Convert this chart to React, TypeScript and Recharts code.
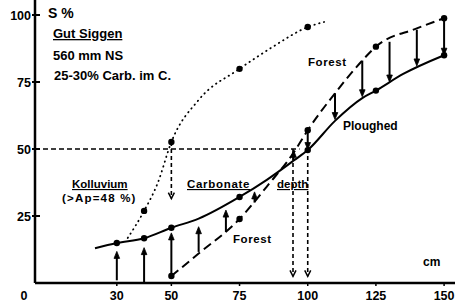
import React from "react";
import { ComposedChart, Line, XAxis, YAxis, ReferenceLine } from "recharts";

// depth (cm) vs S %
const ploughedDepth = [22, 30, 40, 50, 60, 75, 85, 95, 100, 110, 120, 125, 135, 150];
const ploughedS = [13, 14.9, 16.7, 20.6, 24, 32.1, 38.5, 45.8, 49.6, 60.5, 69, 71.8, 78, 85];
const ploughedDots = [30, 40, 50, 75, 100, 125, 150];

const forestDepth = [50, 60, 75, 85, 95, 100, 110, 120, 125, 140, 150];
const forestS = [2.6, 11, 23.9, 36, 48.9, 57, 70.8, 83, 88.2, 95, 98.8];
const forestDots = [50, 75, 100, 125, 150];

const kolluviumDepth = [34, 40, 45, 50, 60, 75, 87, 100, 106];
const kolluviumS = [16.8, 26.9, 37.3, 52.6, 68.3, 79.9, 88, 95.5, 97.4];
const kolluviumDots = [40, 50, 75, 100];

// arrows: depth, start value, end value
const upDepth = [30, 40, 50, 60, 70, 80.5, 94.8];
const upFrom = [1, 0, 2.6, 11.6, 19, 30, 45.5];
const upTo = [11.8, 13.2, 18.7, 21, 27.2, 34, 49.5];

const downDepth = [100, 110, 120, 130, 140, 150];
const downFrom = [57, 70.8, 83, 90, 94.5, 98.8];
const downTo = [49.8, 61, 69.5, 75, 81, 85];

const guideDepth = [50, 94.6, 100];
const guideFrom = [52.6, 50, 50];
const guideTo = [31.5, 2.5, 2.5];

const xTicks = [0, 30, 50, 75, 100, 125, 150];
const yTicks = [25, 50, 75, 100];

const FONT = "'Liberation Sans', Arial, sans-serif";

const toPoints = (xs: number[], ys: number[]) => xs.map((d, i) => ({ d, s: ys[i] }));

const markDot = (marks: number[]) => (p: any) =>
  marks.includes(p.payload.d) ? (
    <circle key={`m${p.index}`} cx={p.cx} cy={p.cy} r={3.2} fill="#000" />
  ) : (
    <g key={`m${p.index}`} />
  );

const Arrow = (p: any, dashed: boolean) => {
  const { x1, y1, x2, y2 } = p;
  const len = Math.hypot(x2 - x1, y2 - y1) || 1;
  const ux = (x2 - x1) / len;
  const uy = (y2 - y1) / len;
  const hl = dashed ? 6 : 7;
  const hw = dashed ? 3 : 2.8;
  const bx = x2 - ux * hl;
  const by = y2 - uy * hl;
  const lx = bx - uy * hw;
  const ly = by + ux * hw;
  const rx = bx + uy * hw;
  const ry = by - ux * hw;
  return (
    <g>
      <line
        x1={x1}
        y1={y1}
        x2={dashed ? x2 : bx + ux * 2}
        y2={dashed ? y2 : by + uy * 2}
        stroke="#000"
        strokeWidth={dashed ? 1.6 : 2}
        strokeDasharray={dashed ? "4 3" : undefined}
      />
      {dashed ? (
        <polyline points={`${lx},${ly} ${x2},${y2} ${rx},${ry}`} fill="none" stroke="#000" strokeWidth={1.5} />
      ) : (
        <polygon points={`${lx},${ly} ${x2},${y2} ${rx},${ry}`} fill="#000" stroke="#000" strokeWidth={0.8} />
      )}
    </g>
  );
};

const XTick = ({ x, y, payload }: any) => {
  const v = payload.value;
  return (
    <g>
      {v !== 0 && <line x1={x} x2={x} y1={y} y2={y + 3} stroke="#000" strokeWidth={1.5} />}
      <text x={v === 0 ? x - 11 : x} y={y + 17} textAnchor="middle" fontFamily={FONT} fontWeight={700} fontSize={12.5} fill="#000">
        {v}
      </text>
    </g>
  );
};

const YTick = ({ x, y, payload }: any) => (
  <g>
    <line x1={x - 3} x2={x + 5} y1={y} y2={y} stroke="#000" strokeWidth={2} />
    <text x={x - 4} y={y + 4.5} textAnchor="end" fontFamily={FONT} fontWeight={700} fontSize={12.5} fill="#000">
      {payload.value}
    </text>
  </g>
);

const Notes = () => (
  <g fontFamily={FONT} fontWeight={700} fill="#000">
    <text x={48} y={18} fontSize={14}>S %</text>
    <text x={53} y={38} fontSize={13} textDecoration="underline">Gut Siggen</text>
    <text x={53} y={60} fontSize={13}>560 mm NS</text>
    <text x={54} y={80} fontSize={13}>25-30% Carb. im C.</text>
    <text x={308} y={66} fontSize={11.5} letterSpacing={0.6}>Forest</text>
    <text x={343} y={130} fontSize={12}>Ploughed</text>
    <text x={72} y={188} fontSize={11.5} textDecoration="underline">Kolluvium</text>
    <text x={62} y={202} fontSize={11.5} letterSpacing={1.2}>(&gt;Ap=48 %)</text>
    <text x={187} y={188} fontSize={11.5} letterSpacing={0.7} textDecoration="underline">Carbonate</text>
    <text x={277} y={188} fontSize={11.5} textDecoration="underline">depth</text>
    <text x={233} y={243} fontSize={11.5} letterSpacing={0.6}>Forest</text>
    <text x={423} y={266} fontSize={12}>cm</text>
  </g>
);

export default function App() {
  return (
    <div style={{ position: "absolute", left: 0, top: 0, background: "#fff" }}>
      <ComposedChart width={458} height={304} margin={{ top: 0, right: 3, left: 0, bottom: 0 }}>
        <XAxis
          type="number"
          dataKey="d"
          domain={[0, 154]}
          ticks={xTicks}
          allowDataOverflow
          height={21}
          tickSize={0}
          tickMargin={0}
          tick={<XTick />}
          axisLine={{ stroke: "#000", strokeWidth: 2.5 }}
        />
        <YAxis
          type="number"
          domain={[0, 105.6]}
          ticks={yTicks}
          allowDataOverflow
          width={35}
          tickSize={0}
          tickMargin={0}
          tick={<YTick />}
          axisLine={{ stroke: "#000", strokeWidth: 2.5 }}
        />
        <ReferenceLine
          segment={[{ x: 0, y: 50 }, { x: 97, y: 50 }]}
          stroke="#000"
          strokeWidth={1.6}
          strokeDasharray="5 3"
        />
        {guideDepth.map((d, i) => (
          <ReferenceLine
            key={`g${i}`}
            segment={[{ x: d, y: guideFrom[i] }, { x: d, y: guideTo[i] }]}
            shape={(p: any) => Arrow(p, true)}
          />
        ))}
        {upDepth.map((d, i) => (
          <ReferenceLine
            key={`u${i}`}
            segment={[{ x: d, y: upFrom[i] }, { x: d, y: upTo[i] }]}
            shape={(p: any) => Arrow(p, false)}
          />
        ))}
        {downDepth.map((d, i) => (
          <ReferenceLine
            key={`w${i}`}
            segment={[{ x: d, y: downFrom[i] }, { x: d, y: downTo[i] }]}
            shape={(p: any) => Arrow(p, false)}
          />
        ))}
        <Line
          data={toPoints(kolluviumDepth, kolluviumS)}
          dataKey="s"
          type="monotone"
          stroke="#000"
          strokeWidth={1.8}
          strokeDasharray="0.5 4.5"
          strokeLinecap="round"
          dot={markDot(kolluviumDots)}
          activeDot={false}
          isAnimationActive={false}
        />
        <Line
          data={toPoints(forestDepth, forestS)}
          dataKey="s"
          type="monotone"
          stroke="#000"
          strokeWidth={2}
          strokeDasharray="9 5"
          dot={markDot(forestDots)}
          activeDot={false}
          isAnimationActive={false}
        />
        <Line
          data={toPoints(ploughedDepth, ploughedS)}
          dataKey="s"
          type="monotone"
          stroke="#000"
          strokeWidth={2}
          dot={markDot(ploughedDots)}
          activeDot={false}
          isAnimationActive={false}
        />
        <Notes />
      </ComposedChart>
    </div>
  );
}
